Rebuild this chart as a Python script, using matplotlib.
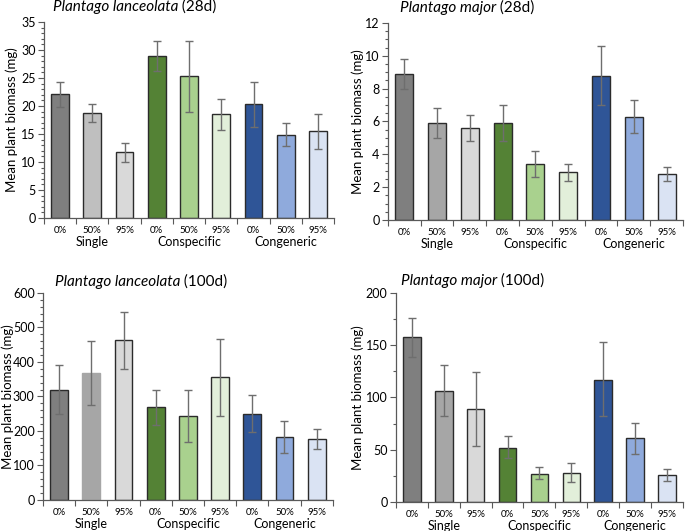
import matplotlib
matplotlib.use("Agg")
import matplotlib.pyplot as plt
from matplotlib.ticker import MultipleLocator

plt.rcParams['font.family'] = ['Lato', 'DejaVu Sans']

cat_labels = ['0%', '50%', '95%', '0%', '50%', '95%', '0%', '50%', '95%']
group_labels = ['Single', 'Conspecific', 'Congeneric']

# Plantago lanceolata 28d
lan28_mean = [22.1, 18.7, 11.7, 29.0, 25.3, 18.5, 20.3, 14.9, 15.5]
lan28_low = [19.8, 17.1, 10.0, 26.3, 19.0, 15.7, 16.3, 12.8, 12.4]
lan28_high = [24.3, 20.3, 13.4, 31.7, 31.6, 21.3, 24.3, 17.0, 18.6]

# Plantago major 28d
maj28_mean = [8.9, 5.9, 5.6, 5.9, 3.4, 2.9, 8.8, 6.3, 2.8]
maj28_low = [8.0, 5.0, 4.8, 4.8, 2.6, 2.4, 7.0, 5.3, 2.4]
maj28_high = [9.8, 6.8, 6.4, 7.0, 4.2, 3.4, 10.6, 7.3, 3.2]

# Plantago lanceolata 100d
lan100_mean = [320, 368, 463, 268, 243, 355, 250, 183, 178]
lan100_low = [250, 275, 380, 218, 167, 242, 196, 137, 149]
lan100_high = [390, 460, 546, 318, 319, 467, 304, 229, 207]

# Plantago major 100d
maj100_mean = [158, 106, 89, 52, 27, 28, 117, 61, 26]
maj100_low = [139, 82, 54, 42, 22, 19, 82, 46, 20]
maj100_high = [176, 131, 124, 63, 33, 37, 153, 76, 32]

colors_a = ['#7f7f7f', '#bfbfbf', '#d9d9d9', '#548235', '#a9d18e', '#e2efda',
            '#2f5597', '#8faadc', '#dae3f3']
colors_b = ['#7f7f7f', '#a6a6a6', '#d9d9d9', '#548235', '#a9d18e', '#e2efda',
            '#2f5597', '#8faadc', '#dae3f3']

panels = [
    dict(species='Plantago lanceolata', age=' (28d)', mean=lan28_mean, low=lan28_low,
         high=lan28_high, ymax=35, major=5, minor=1, colors=colors_a,
         pos=[0.064, 0.5895, 0.424, 0.369], tx=0.03, ty=15, lx=-0.11, noedge=[]),
    dict(species='Plantago major', age=' (28d)', mean=maj28_mean, low=maj28_low,
         high=maj28_high, ymax=12, major=2, minor=0.5, colors=colors_b,
         pos=[0.566, 0.5857, 0.431, 0.371], tx=0.04, ty=15, lx=-0.1, noedge=[]),
    dict(species='Plantago lanceolata', age=' (100d)', mean=lan100_mean, low=lan100_low,
         high=lan100_high, ymax=600, major=100, minor=20, colors=colors_b,
         pos=[0.0628, 0.0584, 0.423, 0.390], tx=0.04, ty=11, lx=-0.122, noedge=[1]),
    dict(species='Plantago major', age=' (100d)', mean=maj100_mean, low=maj100_low,
         high=maj100_high, ymax=200, major=50, minor=25, colors=colors_b,
         pos=[0.578, 0.0546, 0.419, 0.394], tx=0.017, ty=12, lx=-0.132, noedge=[]),
]

fig = plt.figure(figsize=(6.85, 5.31), dpi=100)
axc = '#595959'
for p in panels:
    ax = fig.add_axes(p['pos'])
    x = list(range(len(cat_labels)))
    edges = ['#2b2b2b' if i not in p['noedge'] else p['colors'][i] for i in x]
    ax.bar(x, p['mean'], width=0.55, color=p['colors'], edgecolor=edges,
           linewidth=1.0, zorder=2)
    yerr = [[m - l for m, l in zip(p['mean'], p['low'])],
            [h - m for m, h in zip(p['mean'], p['high'])]]
    ax.errorbar(x, p['mean'], yerr=yerr, fmt='none', ecolor='#6e6e6e',
                elinewidth=1.0, capsize=3, capthick=1.0, zorder=3)
    ax.set_xlim(-0.5, 8.5)
    ax.set_ylim(0, p['ymax'])
    ax.yaxis.set_major_locator(MultipleLocator(p['major']))
    ax.yaxis.set_minor_locator(MultipleLocator(p['minor']))
    ax.tick_params(axis='y', which='major', direction='out', length=4, width=0.8,
                   color=axc, labelsize=9, pad=2)
    ax.tick_params(axis='y', which='minor', direction='out', length=2, width=0.8,
                   color=axc)
    ax.set_xticks([i - 0.5 for i in range(10)])
    ax.set_xticklabels([])
    ax.tick_params(axis='x', which='major', direction='out', length=4, width=0.8,
                   color=axc)
    for s in ['top', 'right']:
        ax.spines[s].set_visible(False)
    for s in ['left', 'bottom']:
        ax.spines[s].set_color(axc)
        ax.spines[s].set_linewidth(0.9)
    ax.set_ylabel('Mean plant biomass (mg)', fontsize=9.5)
    ax.yaxis.label.set_va('center')
    ax.yaxis.set_label_coords(p['lx'], 0.5)
    for i, lab in enumerate(cat_labels):
        ax.annotate(lab, xy=(i, 0), xycoords=('data', 'axes fraction'),
                    xytext=(0, -8), textcoords='offset pixels', ha='center',
                    va='top', fontsize=7)
    for g, lab in enumerate(group_labels):
        ax.annotate(lab, xy=(3 * g + 1, 0), xycoords=('data', 'axes fraction'),
                    xytext=(0, -18), textcoords='offset pixels', ha='center',
                    va='top', fontsize=9)
    t1 = ax.annotate(p['species'], xy=(p['tx'], 1), xycoords='axes fraction',
                     xytext=(0, p['ty']), textcoords='offset pixels', ha='left',
                     va='center', fontsize=11, style='italic')
    fig.canvas.draw()
    bb = t1.get_window_extent()
    inv = ax.transAxes.inverted()
    xe = inv.transform((bb.x1, bb.y0))[0]
    ax.annotate(p['age'], xy=(xe, 1), xycoords='axes fraction',
                xytext=(0, p['ty']), textcoords='offset pixels', ha='left',
                va='center', fontsize=11)

fig.savefig('out.png', dpi=100)
